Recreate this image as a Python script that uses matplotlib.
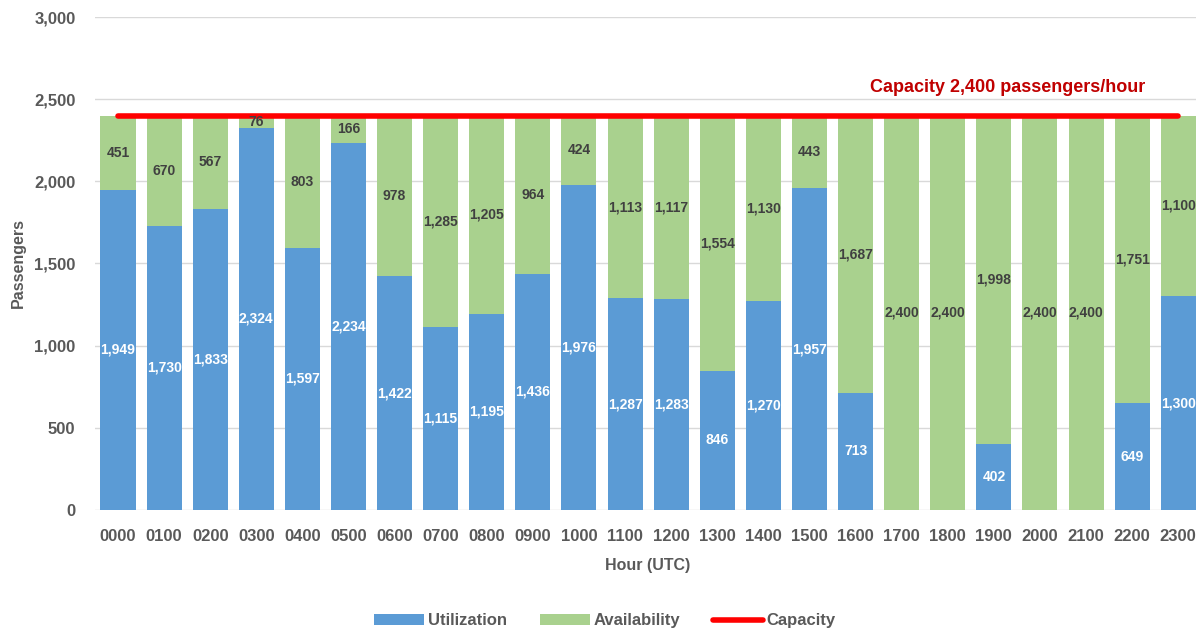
import numpy as np
import matplotlib
matplotlib.use("Agg")
import matplotlib.pyplot as plt
from matplotlib.ticker import FuncFormatter

# 数据
hours = ["0000", "0100", "0200", "0300", "0400", "0500", "0600", "0700",
         "0800", "0900", "1000", "1100", "1200", "1300", "1400", "1500",
         "1600", "1700", "1800", "1900", "2000", "2100", "2200", "2300"]
utilization = [1949, 1730, 1833, 2324, 1597, 2234, 1422, 1115, 1195, 1436, 1976, 1287,
               1283, 846, 1270, 1957, 713, 0, 0, 402, 0, 0, 649, 1300]
availability = [451, 670, 567, 76, 803, 166, 978, 1285, 1205, 964, 424, 1113,
                1117, 1554, 1130, 443, 1687, 2400, 2400, 1998, 2400, 2400, 1751, 1100]
capacity = 2400

plt.rcParams['font.family'] = ['Liberation Sans', 'DejaVu Sans']
BLUE = "#5B9BD5"
GREEN = "#A9D18E"
RED = "#FF0000"
GREY = "#595959"

fig = plt.figure(figsize=(11.96, 6.31), dpi=100)
ax = fig.add_axes([0.0794, 0.192, 0.925, 0.781])

x = np.arange(len(hours))
w = 0.76
b1 = ax.bar(x, utilization, w, color=BLUE, label="Utilization", zorder=2)
b2 = ax.bar(x, availability, w, bottom=utilization, color=GREEN, label="Availability", zorder=2)
ln, = ax.plot([x[0], x[-1]], [capacity, capacity], color=RED, lw=4, solid_capstyle="round",
              label="Capacity", zorder=3)

# 数据标签
for i in range(len(x)):
    u, a = utilization[i], availability[i]
    if u > 0:
        ax.text(x[i], u / 2, f"{u:,}", ha="center", va="center", color="white",
                fontsize=10, fontweight="bold", zorder=4)
    if a > 0:
        ax.text(x[i], u + a / 2, f"{a:,}", ha="center", va="center", color="#404040",
                fontsize=10, fontweight="bold", zorder=4)

fig.text(1008 / 1196, 1 - 88 / 631, "Capacity 2,400 passengers/hour", ha="center", va="center",
         color="#C00000", fontsize=13, fontweight="bold")

ax.set_xlim(-0.5, 23.5)
ax.set_ylim(0, 3000)
ax.set_yticks(range(0, 3001, 500))
ax.yaxis.set_major_formatter(FuncFormatter(lambda v, p: f"{int(v):,}"))
ax.set_xticks(x)
ax.set_xticklabels(hours)
ax.grid(axis="y", color="#D9D9D9", lw=1, zorder=0)
for s in ax.spines.values():
    s.set_visible(False)
ax.tick_params(length=0, colors=GREY, labelsize=12)
ax.tick_params(axis="y", pad=14)
ax.tick_params(axis="x", pad=14)
for t in ax.get_xticklabels() + ax.get_yticklabels():
    t.set_fontweight("bold")

ax.set_xlabel("Hour (UTC)", fontsize=11.5, fontweight="bold", color=GREY, labelpad=10)
ax.set_ylabel("Passengers", fontsize=11.5, fontweight="bold", color=GREY, labelpad=6)

leg = fig.legend(handles=[b1, b2, ln], loc="center", bbox_to_anchor=(0.506, 0.016), ncol=3,
                 frameon=False, fontsize=12, handlelength=3.0, columnspacing=2.0,
                 handletextpad=0.2)
for t in leg.get_texts():
    t.set_color(GREY)
    t.set_fontweight("bold")

fig.savefig("out.png", dpi=100)
